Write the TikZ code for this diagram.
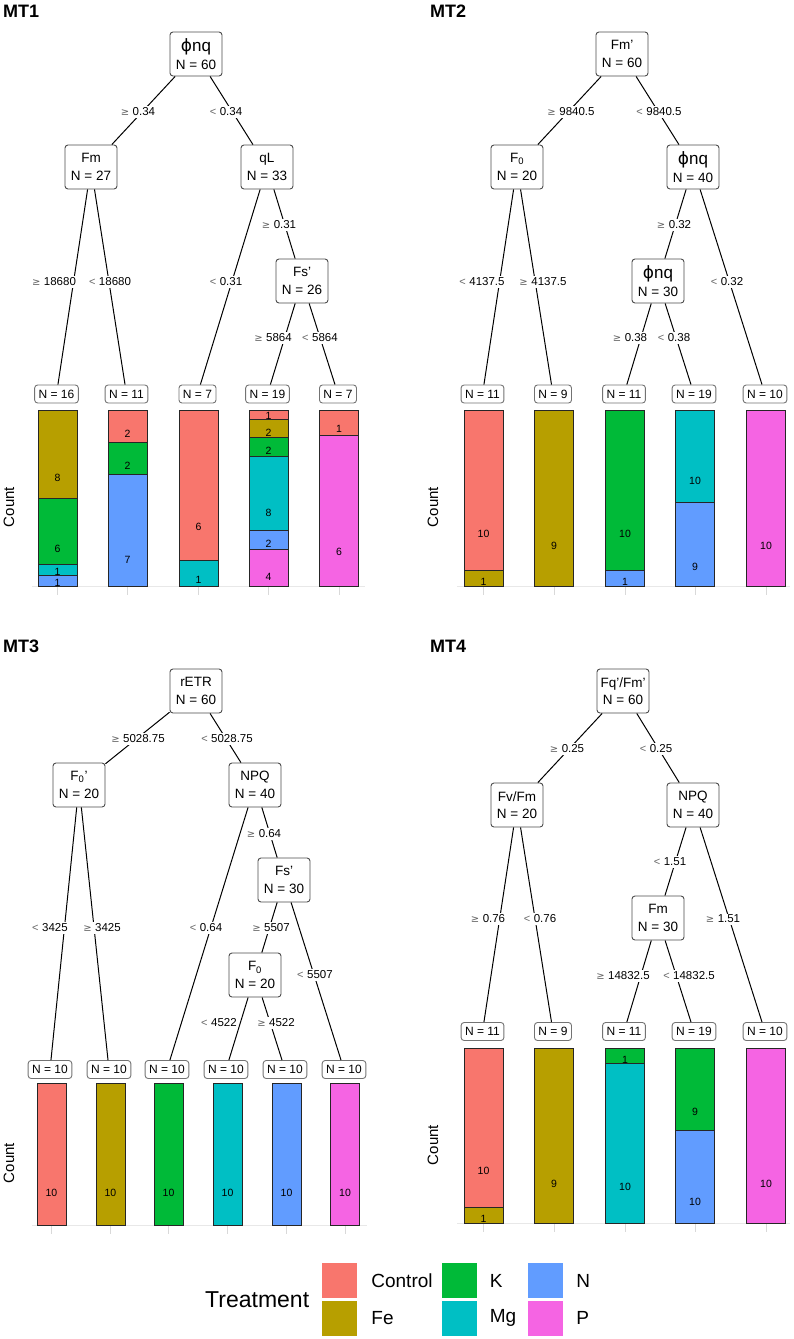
\documentclass[tikz,border=0pt]{standalone}
\usepackage{fontspec}
\setmainfont{Liberation Sans}
\newfontfamily\dvs{DejaVu Sans}
\usepackage{tikz}
\definecolor{trControl}{HTML}{F8766D}
\definecolor{trFe}{HTML}{B79F00}
\definecolor{trK}{HTML}{00BA38}
\definecolor{trMg}{HTML}{00BFC4}
\definecolor{trN}{HTML}{619CFF}
\definecolor{trP}{HTML}{F564E3}
\NewDocumentCommand{\phinq}{}{{\fontsize{17}{17}\selectfont{\dvs ϕ}nq}}
\NewDocumentCommand{\cutge}{}{{\dvs\color{black!60}\fontsize{10}{10}\selectfont ≥}\hspace{3.5pt}}
\NewDocumentCommand{\cutlt}{}{{\color{black!60}\fontsize{11}{11}\selectfont <}\hspace{3.5pt}}
\NewDocumentCommand{\stackbar}{m m m m m m}{%
	% x, bottom, height, half width, N, colour/count from the bottom
	\xdef\segbase{#2}%
	\foreach \col/\cnt in {#6}{%
		\pgfmathsetmacro{\segtop}{\segbase-#3*\cnt/#5}%
		\draw[/MT/seg, fill=\col] (#1-#4,\segbase) rectangle (#1+#4,\segtop);
		\xdef\segbase{\segtop}%
	}%
	\xdef\segbase{#2}%
	\foreach \col/\cnt in {#6}{%
		\pgfmathsetmacro{\segh}{#3*\cnt/#5}%
		\path (#1,\segbase-0.22*\segh-1) node[/MT/count] {\cnt};
		\pgfmathsetmacro{\segtop}{\segbase-\segh}%
		\xdef\segbase{\segtop}%
	}%
}
\tikzset{/MT/split/.style={
	shape=rectangle, draw=black!70, line width=0.9pt, rounded corners=3pt, fill=white, align=center,
	minimum width=52pt, minimum height=44pt, inner sep=2pt, font={\fontsize{13.5}{17.5}\selectfont}
}}
\tikzset{/MT/leaf/.style={
	draw=black!55, line width=0.9pt, rounded corners=3pt, fill=white, inner xsep=4pt, inner ysep=1pt,
	minimum height=18pt, font={\fontsize{12}{12}\selectfont}
}}
\tikzset{/MT/cut/.style={fill=white, inner sep=1.5pt, font={\fontsize{11.5}{11.5}\selectfont}}}
\tikzset{/MT/edge/.style={draw=black, line width=1pt}}
\tikzset{/MT/seg/.style={draw=black!85, line width=0.9pt}}
\tikzset{/MT/count/.style={inner sep=0, font={\fontsize{10.5}{10.5}\selectfont}}}
\tikzset{/MT/grid/.style={draw=black!9, line width=1pt}}
\tikzset{/MT/tick/.style={draw=black!15, line width=0.8pt}}
\tikzset{/MT/title/.style={anchor=west, inner sep=0, font={\bfseries\fontsize{18}{18}\selectfont}}}
\tikzset{/MT/axis/.style={rotate=90, inner sep=0, font={\fontsize{15}{15}\selectfont}}}
\tikzset{/MT/key/.style={minimum width=35pt, minimum height=35pt, inner sep=0}}
\tikzset{/MT/keytext/.style={anchor=west, inner sep=0, font={\fontsize{19}{19}\selectfont}}}

\begin{document}
\begin{tikzpicture}[x=1pt, y=-1pt]
	\useasboundingbox (0,0) rectangle (793,1339);
	% MT1
	\path (3,11) node[/MT/title] (t1) {MT1};
	\path (9,507) node[/MT/axis] (y1) {Count};
	\draw[/MT/grid] (32,586) -- (365,586);
	\foreach \x in {57.5,127.5,198.5,268.5,339} \draw[/MT/tick] (\x,587) -- (\x,595);
	\stackbar{57.5}{586}{176}{19.5}{16}{trN/1,trMg/1,trK/6,trFe/8}
	\stackbar{127.5}{586}{176}{19.5}{11}{trN/7,trK/2,trControl/2}
	\stackbar{198.5}{586}{176}{19.5}{7}{trMg/1,trControl/6}
	\stackbar{268.5}{586}{176}{19.5}{19}{trP/4,trN/2,trMg/8,trK/2,trFe/2,trControl/1}
	\stackbar{339}{586}{176}{19.5}{7}{trP/6,trControl/1}
	\path (196,54) node[/MT/split] (r1) {\phinq\\N = 60};
	\path (91,167) node[/MT/split] (a1) {Fm\\N = 27};
	\path (267,167) node[/MT/split] (b1) {qL\\N = 33};
	\path (302,281) node[/MT/split] (c1) {Fs’\\N = 26};
	\path (56.5,394) node[/MT/leaf] (l11) {N = 16};
	\path (126.5,394) node[/MT/leaf] (l12) {N = 11};
	\path (197.5,394) node[/MT/leaf] (l13) {N = 7};
	\path (267.5,394) node[/MT/leaf] (l14) {N = 19};
	\path (338,394) node[/MT/leaf] (l15) {N = 7};
	\draw[/MT/edge] (r1) -- (a1); \draw[/MT/edge] (r1) -- (b1);
	\draw[/MT/edge] (a1) -- (l11); \draw[/MT/edge] (a1) -- (l12);
	\draw[/MT/edge] (b1) -- (l13); \draw[/MT/edge] (b1) -- (c1);
	\draw[/MT/edge] (c1) -- (l14); \draw[/MT/edge] (c1) -- (l15);
	\path (138,112) node[/MT/cut] {\cutge 0.34};
	\path (226,112) node[/MT/cut] {\cutlt 0.34};
	\path (279,225) node[/MT/cut] {\cutge 0.31};
	\path (54,282) node[/MT/cut] {\cutge 18680};
	\path (110,282) node[/MT/cut] {\cutlt 18680};
	\path (226,282) node[/MT/cut] {\cutlt 0.31};
	\path (273,338) node[/MT/cut] {\cutge 5864};
	\path (320,338) node[/MT/cut] {\cutlt 5864};

	% MT2
	\path (430,11) node[/MT/title] (t2) {MT2};
	\path (433,507) node[/MT/axis] (y2) {Count};
	\draw[/MT/grid] (457,586) -- (790,586);
	\foreach \x in {483.5,554,625,695,766} \draw[/MT/tick] (\x,587) -- (\x,595);
	\stackbar{483.5}{586}{176}{19.5}{11}{trFe/1,trControl/10}
	\stackbar{554}{586}{176}{19.5}{9}{trFe/9}
	\stackbar{625}{586}{176}{19.5}{11}{trN/1,trK/10}
	\stackbar{695}{586}{176}{19.5}{19}{trN/9,trMg/10}
	\stackbar{766}{586}{176}{19.5}{10}{trP/10}
	\path (622,54) node[/MT/split] (r2) {Fm’\\N = 60};
	\path (517,167) node[/MT/split] (a2) {F\textsubscript{0}\\N = 20};
	\path (693,167) node[/MT/split] (b2) {\phinq\\N = 40};
	\path (658,281) node[/MT/split] (c2) {\phinq\\N = 30};
	\path (482.5,394) node[/MT/leaf] (l21) {N = 11};
	\path (553,394) node[/MT/leaf] (l22) {N = 9};
	\path (624,394) node[/MT/leaf] (l23) {N = 11};
	\path (694,394) node[/MT/leaf] (l24) {N = 19};
	\path (765,394) node[/MT/leaf] (l25) {N = 10};
	\draw[/MT/edge] (r2) -- (a2); \draw[/MT/edge] (r2) -- (b2);
	\draw[/MT/edge] (a2) -- (l21); \draw[/MT/edge] (a2) -- (l22);
	\draw[/MT/edge] (b2) -- (c2); \draw[/MT/edge] (b2) -- (l25);
	\draw[/MT/edge] (c2) -- (l23); \draw[/MT/edge] (c2) -- (l24);
	\path (571,112) node[/MT/cut] {\cutge 9840.5};
	\path (659,112) node[/MT/cut] {\cutlt 9840.5};
	\path (674,225) node[/MT/cut] {\cutge 0.32};
	\path (482,282) node[/MT/cut] {\cutlt 4137.5};
	\path (543,282) node[/MT/cut] {\cutge 4137.5};
	\path (727,282) node[/MT/cut] {\cutlt 0.32};
	\path (630,338) node[/MT/cut] {\cutge 0.38};
	\path (674,338) node[/MT/cut] {\cutlt 0.38};

	% MT3
	\path (3,646) node[/MT/title] (t3) {MT3};
	\path (9,1163) node[/MT/axis] (y3) {Count};
	\draw[/MT/grid] (32,1225) -- (367,1225);
	\foreach \x in {51.5,110.5,168.5,227.5,286.5,345} \draw[/MT/tick] (\x,1226) -- (\x,1234);
	\stackbar{51.5}{1225}{142}{14.5}{10}{trControl/10}
	\stackbar{110.5}{1225}{142}{14.5}{10}{trFe/10}
	\stackbar{168.5}{1225}{142}{14.5}{10}{trK/10}
	\stackbar{227.5}{1225}{142}{14.5}{10}{trMg/10}
	\stackbar{286.5}{1225}{142}{14.5}{10}{trN/10}
	\stackbar{345}{1225}{142}{14.5}{10}{trP/10}
	\path (196,691) node[/MT/split] (r3) {rETR\\N = 60};
	\path (79,785) node[/MT/split] (a3) {F\textsubscript{0}’\\N = 20};
	\path (255,785) node[/MT/split] (b3) {NPQ\\N = 40};
	\path (284,880) node[/MT/split] (c3) {Fs’\\N = 30};
	\path (255,975) node[/MT/split] (d3) {F\textsubscript{0}\\N = 20};
	\path (50,1069.5) node[/MT/leaf] (l31) {N = 10};
	\path (109,1069.5) node[/MT/leaf] (l32) {N = 10};
	\path (167,1069.5) node[/MT/leaf] (l33) {N = 10};
	\path (226,1069.5) node[/MT/leaf] (l34) {N = 10};
	\path (285,1069.5) node[/MT/leaf] (l35) {N = 10};
	\path (344,1069.5) node[/MT/leaf] (l36) {N = 10};
	\draw[/MT/edge] (r3) -- (a3); \draw[/MT/edge] (r3) -- (b3);
	\draw[/MT/edge] (a3) -- (l31); \draw[/MT/edge] (a3) -- (l32);
	\draw[/MT/edge] (b3) -- (l33); \draw[/MT/edge] (b3) -- (c3);
	\draw[/MT/edge] (c3) -- (d3); \draw[/MT/edge] (c3) -- (l36);
	\draw[/MT/edge] (d3) -- (l34); \draw[/MT/edge] (d3) -- (l35);
	\path (138,739) node[/MT/cut] {\cutge 5028.75};
	\path (227,739) node[/MT/cut] {\cutlt 5028.75};
	\path (264,834) node[/MT/cut] {\cutge 0.64};
	\path (50,928) node[/MT/cut] {\cutlt 3425};
	\path (102,928) node[/MT/cut] {\cutge 3425};
	\path (206,928) node[/MT/cut] {\cutlt 0.64};
	\path (271,928) node[/MT/cut] {\cutge 5507};
	\path (315,975) node[/MT/cut] {\cutlt 5507};
	\path (219,1023) node[/MT/cut] {\cutlt 4522};
	\path (276,1023) node[/MT/cut] {\cutge 4522};

	% MT4
	\path (430,646) node[/MT/title] (t4) {MT4};
	\path (433,1145) node[/MT/axis] (y4) {Count};
	\draw[/MT/grid] (457,1223) -- (790,1223);
	\foreach \x in {483.5,554,625,695,766} \draw[/MT/tick] (\x,1224) -- (\x,1232);
	\stackbar{483.5}{1223}{175}{19.5}{11}{trFe/1,trControl/10}
	\stackbar{554}{1223}{175}{19.5}{9}{trFe/9}
	\stackbar{625}{1223}{175}{19.5}{11}{trMg/10,trK/1}
	\stackbar{695}{1223}{175}{19.5}{19}{trN/10,trK/9}
	\stackbar{766}{1223}{175}{19.5}{10}{trP/10}
	\path (623,691) node[/MT/split] (r4) {Fq’/Fm’\\N = 60};
	\path (517,805) node[/MT/split] (a4) {Fv/Fm\\N = 20};
	\path (693,805) node[/MT/split] (b4) {NPQ\\N = 40};
	\path (658,918) node[/MT/split] (c4) {Fm\\N = 30};
	\path (482.5,1031.5) node[/MT/leaf] (l41) {N = 11};
	\path (553,1031.5) node[/MT/leaf] (l42) {N = 9};
	\path (624,1031.5) node[/MT/leaf] (l43) {N = 11};
	\path (694,1031.5) node[/MT/leaf] (l44) {N = 19};
	\path (765,1031.5) node[/MT/leaf] (l45) {N = 10};
	\draw[/MT/edge] (r4) -- (a4); \draw[/MT/edge] (r4) -- (b4);
	\draw[/MT/edge] (a4) -- (l41); \draw[/MT/edge] (a4) -- (l42);
	\draw[/MT/edge] (b4) -- (c4); \draw[/MT/edge] (b4) -- (l45);
	\draw[/MT/edge] (c4) -- (l43); \draw[/MT/edge] (c4) -- (l44);
	\path (567,749) node[/MT/cut] {\cutge 0.25};
	\path (656,749) node[/MT/cut] {\cutlt 0.25};
	\path (670,862) node[/MT/cut] {\cutlt 1.51};
	\path (488,919) node[/MT/cut] {\cutge 0.76};
	\path (540,919) node[/MT/cut] {\cutlt 0.76};
	\path (723,919) node[/MT/cut] {\cutge 1.51};
	\path (623,976) node[/MT/cut] {\cutge 14832.5};
	\path (689,976) node[/MT/cut] {\cutlt 14832.5};

	% legend
	\path (205,1300) node[anchor=west, inner sep=0, font={\fontsize{23}{23}\selectfont}] (lg) {Treatment};
	\path (339.5,1280.5) node[/MT/key, fill=trControl] (kc) {};
	\path (339.5,1318) node[/MT/key, fill=trFe] (kf) {};
	\path (459,1280.5) node[/MT/key, fill=trK] (kk) {};
	\path (459,1318) node[/MT/key, fill=trMg] (km) {};
	\path (545.5,1280.5) node[/MT/key, fill=trN] (kn) {};
	\path (545.5,1318) node[/MT/key, fill=trP] (kp) {};
	\path (kc.east) ++ (14,0) node[/MT/keytext] {Control};
	\path (kf.east) ++ (14,0) node[/MT/keytext] {Fe};
	\path (kk.east) ++ (13,0) node[/MT/keytext] {K};
	\path (km.east) ++ (13,0) node[/MT/keytext] {Mg};
	\path (kn.east) ++ (13,0) node[/MT/keytext] {N};
	\path (kp.east) ++ (13,0) node[/MT/keytext] {P};
\end{tikzpicture}
\end{document}
